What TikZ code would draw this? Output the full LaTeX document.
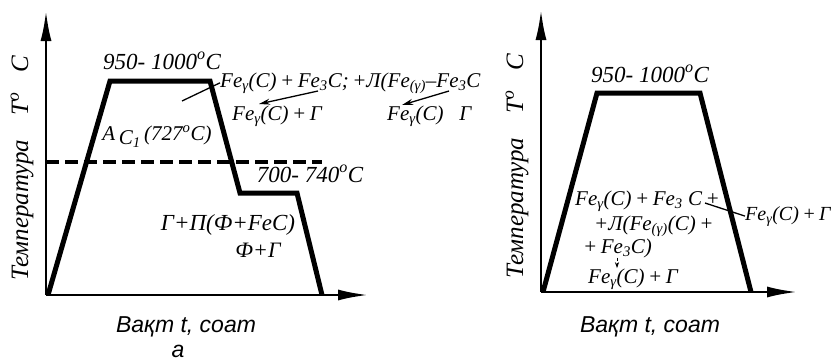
\documentclass[tikz,border=0pt]{standalone}
\usepackage{fontspec}
\setmainfont{Liberation Serif}
\newfontfamily\axfont{Liberation Sans}
\usetikzlibrary{arrows.meta}
\begin{document}
\begin{tikzpicture}[x=1pt,y=-1pt,
  lbl/.style={font=\fontsize{21}{24}\selectfont\itshape, inner sep=0pt, anchor=base},
  big/.style={font=\fontsize{23}{27}\selectfont\itshape, inner sep=0pt, anchor=base},
  axlbl/.style={font=\fontsize{23}{26}\selectfont\axfont\itshape, inner sep=0pt, anchor=base},
  vlbl/.style={font=\fontsize{25}{28}\selectfont\itshape, inner sep=0pt, rotate=90, anchor=base west},
  axis/.style={line width=2.4pt, -{Latex[length=30pt,width=11pt]}},
  curve/.style={line width=5pt, line join=miter},
  lead/.style={line width=1.3pt},
  leadarr/.style={line width=1.3pt, -{Stealth[length=11pt,width=6pt]}},
  thr/.style={line width=3.5pt, dash pattern=on 13pt off 6pt}
]
\useasboundingbox (0,0) rectangle (836,362);

% ---------- left diagram ----------
\coordinate (LO) at (46,295);
\coordinate (LY) at (46,11);
\coordinate (LX) at (368,295);
\coordinate (L1) at (48,295);
\coordinate (L2) at (110,81);
\coordinate (L3) at (210,81);
\coordinate (L4) at (240,193);
\coordinate (L5) at (297,193);
\coordinate (L6) at (322,295);
\coordinate (D1) at (46,162);
\coordinate (D2) at (322,162);

\draw[thr] (D1) -- (D2);
\draw[axis] (LO) -- (LY);
\draw[axis] (LO) -- (LX);
\draw[curve] (L1) -- (L2) -- (L3) -- (L4) -- (L5) -- (L6);

\node[vlbl] (lv) at (28,281) {Температура\hspace{24pt}T\textsuperscript{o}\hspace{20pt}C};
\node[big] (lt1) at (162,69) {950- 1000\textsuperscript{o}C};
\node[lbl] (lac) at (157,140) {A\,\raisebox{-4pt}{C\textsubscript{1}}\,(727\textsuperscript{o}C)};
\node[big] (lt2) at (310,182) {700- 740\textsuperscript{o}C};
\node[lbl, anchor=base west] (n1) at (220,87) {Fe\textsubscript{γ}(C)\,+\,Fe\textsubscript{3}C;\,+Л(Fe\textsubscript{(γ)}–Fe\textsubscript{3}C};
\node[lbl, anchor=base west] (n2) at (232,120) {Fe\textsubscript{γ}(C)\,+\,Г};
\node[lbl, anchor=base west] (n3) at (387,120) {Fe\textsubscript{γ}(C)\ \ \ Г};
\coordinate (p1) at (182,101);
\coordinate (a1s) at (318,91);
\coordinate (a1e) at (259,104);
\coordinate (a2s) at (449,91);
\coordinate (a2e) at (402,105);
\draw[lead] (n1.west) -- (p1);
\draw[leadarr] (a1s) -- (a1e);
\draw[leadarr] (a2s) -- (a2e);
\node[font=\fontsize{23}{26}\selectfont\itshape, inner sep=0pt, anchor=base] (lg1) at (228,230) {Г+П(Ф+FeC)};
\node[font=\fontsize{22}{26}\selectfont\itshape, inner sep=0pt, anchor=base] (lg2) at (258,257) {Ф+Г};
\node[axlbl] (lx) at (186,332) {Вақт t, соат};
\node[axlbl] (la) at (178,357) {a};

% ---------- right diagram ----------
\coordinate (RO) at (541,292);
\coordinate (RY) at (541,10);
\coordinate (RX) at (797,292);
\coordinate (R1) at (543,292);
\coordinate (R2) at (597,93);
\coordinate (R3) at (700,93);
\coordinate (R4) at (751,292);

\draw[axis] (RO) -- (RY);
\draw[axis] (RO) -- (RX);
\draw[curve] (R1) -- (R2) -- (R3) -- (R4);

\node[vlbl] (rv) at (523,279) {Температура\hspace{24pt}T\textsuperscript{o}\hspace{20pt}C};
\node[big] (rt1) at (650,82) {950- 1000\textsuperscript{o}C};
\node[lbl, anchor=base west] (r1) at (575,205) {Fe\textsubscript{γ}(C)\,+\,Fe\textsubscript{3} C\,+};
\node[lbl, anchor=base west] (r2) at (594,230) {+Л(Fe\textsubscript{(γ)}(C)\,+};
\node[lbl, anchor=base west] (r3) at (583,253) {+\,Fe\textsubscript{3}C)};
\node[lbl, anchor=base west] (r4) at (588,283) {Fe\textsubscript{γ}(C)\,+\,Г};
\node[font=\fontsize{20}{24}\selectfont\itshape, inner sep=0pt, anchor=base west] (rl) at (745,220) {Fe\textsubscript{γ}(C)\,+\,Г};
\coordinate (q1) at (705,203);
\coordinate (sa) at (617,0);
\draw[lead] (q1) -- (rl.west);
\draw[line width=1pt, densely dashed, -{Stealth[length=6pt,width=4pt]}] (r3.south -| sa) -- (r4.north -| sa);
\node[axlbl] (rx) at (650,332) {Вақт t, соат};
\end{tikzpicture}
\end{document}
